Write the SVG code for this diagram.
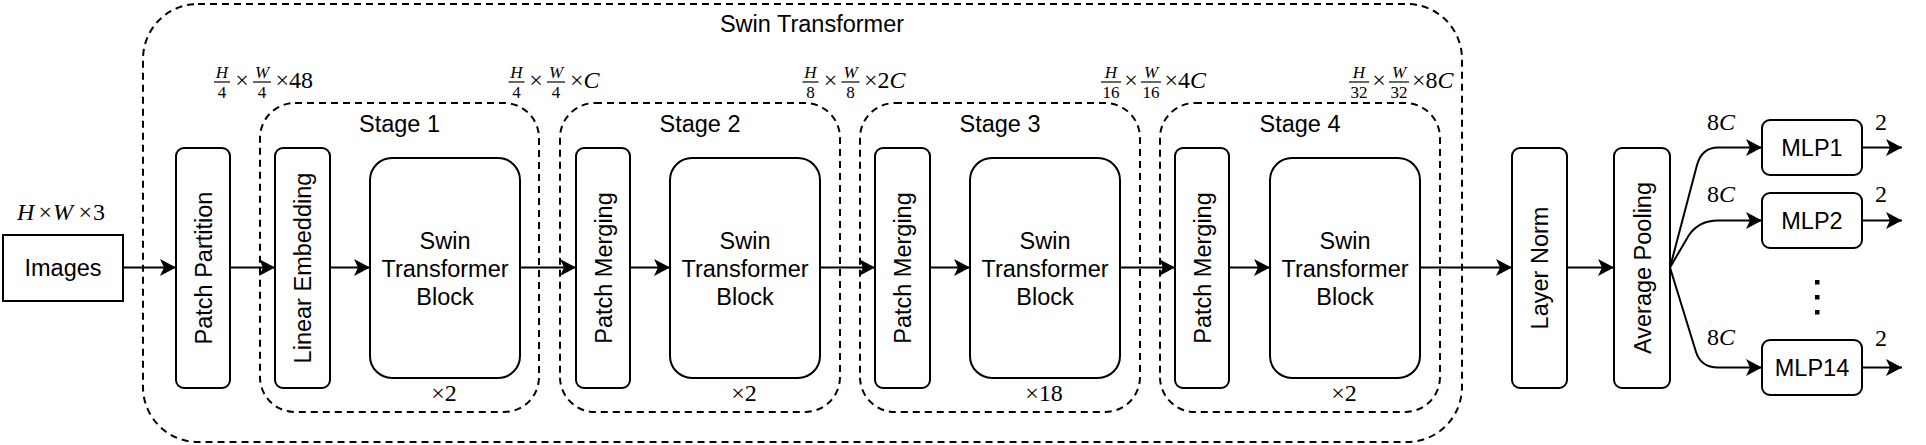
<svg xmlns="http://www.w3.org/2000/svg" width="1926" height="445" viewBox="0 0 1926 445">
<defs>
<marker id="arr" markerUnits="userSpaceOnUse" markerWidth="20" markerHeight="20" viewBox="-18 -10 20 20" refX="0" refY="0" orient="auto">
<path d="M0,0 L-16,-8.5 L-12,0 L-16,8.5 Z" fill="#000"/>
</marker>
</defs>
<style>
.box{fill:#fff;stroke:#000;stroke-width:2}
.dash{fill:none;stroke:#000;stroke-width:2;stroke-dasharray:7 5}
.t{font-family:"Liberation Sans",Arial,sans-serif;font-size:23.5px;fill:#000;text-anchor:middle}
.m{font-family:"Liberation Serif","Times New Roman",serif;font-size:24px;fill:#000}
.mi{font-style:italic}
.f{font-family:"Liberation Serif","Times New Roman",serif;font-size:17px;fill:#000;text-anchor:middle}
.bar{stroke:#000;stroke-width:1.2}
.ln{fill:none;stroke:#000;stroke-width:2;marker-end:url(#arr)}
</style>
<rect width="1926" height="445" fill="#fff"/>

<g id="swin-transformer">
<rect class="dash" x="143" y="4" width="1319" height="438" rx="55" ry="55"/>
<text class="t" x="812" y="32">Swin Transformer</text>
</g>

<g id="stage1">
<rect class="dash" x="260" y="103" width="279" height="309" rx="35" ry="35"/>
<text class="t" x="399.5" y="132">Stage 1</text>
</g>
<g id="stage2">
<rect class="dash" x="560" y="103" width="280" height="309" rx="35" ry="35"/>
<text class="t" x="700" y="132">Stage 2</text>
</g>
<g id="stage3">
<rect class="dash" x="860" y="103" width="280" height="309" rx="35" ry="35"/>
<text class="t" x="1000" y="132">Stage 3</text>
</g>
<g id="stage4">
<rect class="dash" x="1160" y="103" width="280" height="309" rx="35" ry="35"/>
<text class="t" x="1300" y="132">Stage 4</text>
</g>

<g id="images">
<rect class="box" x="3" y="235" width="120" height="66"/>
<text class="t" x="63" y="276">Images</text>
<text class="m" y="220"><tspan class="mi" x="17">H</tspan><tspan x="38.5">×</tspan><tspan class="mi" x="53">W</tspan><tspan x="78.5">×</tspan><tspan x="93">3</tspan></text>
</g>

<g id="patch-partition">
<rect class="box" x="176" y="148" width="54" height="240" rx="8" ry="8"/>
<text class="t" transform="translate(211.5,268) rotate(-90)">Patch Partition</text>
</g>

<g id="linear-embedding">
<rect class="box" x="275" y="148" width="55" height="240" rx="8" ry="8"/>
<text class="t" transform="translate(311,268) rotate(-90)">Linear Embedding</text>
</g>

<g id="swin-block1">
<rect class="box" x="370" y="158" width="150" height="220" rx="22" ry="22"/>
<text class="t" x="445" y="249">Swin</text>
<text class="t" x="445" y="277">Transformer</text>
<text class="t" x="445" y="305">Block</text>
<text class="m" x="444" y="401" text-anchor="middle">×2</text>
</g>

<g id="patch-merging2">
<rect class="box" x="576" y="148" width="54" height="240" rx="8" ry="8"/>
<text class="t" transform="translate(611.5,268) rotate(-90)">Patch Merging</text>
</g>

<g id="swin-block2">
<rect class="box" x="670" y="158" width="150" height="220" rx="22" ry="22"/>
<text class="t" x="745" y="249">Swin</text>
<text class="t" x="745" y="277">Transformer</text>
<text class="t" x="745" y="305">Block</text>
<text class="m" x="744" y="401" text-anchor="middle">×2</text>
</g>

<g id="patch-merging3">
<rect class="box" x="875" y="148" width="55" height="240" rx="8" ry="8"/>
<text class="t" transform="translate(911,268) rotate(-90)">Patch Merging</text>
</g>

<g id="swin-block3">
<rect class="box" x="970" y="158" width="150" height="220" rx="22" ry="22"/>
<text class="t" x="1045" y="249">Swin</text>
<text class="t" x="1045" y="277">Transformer</text>
<text class="t" x="1045" y="305">Block</text>
<text class="m" x="1044" y="401" text-anchor="middle">×18</text>
</g>

<g id="patch-merging4">
<rect class="box" x="1175" y="148" width="54" height="240" rx="8" ry="8"/>
<text class="t" transform="translate(1210.5,268) rotate(-90)">Patch Merging</text>
</g>

<g id="swin-block4">
<rect class="box" x="1270" y="158" width="150" height="220" rx="22" ry="22"/>
<text class="t" x="1345" y="249">Swin</text>
<text class="t" x="1345" y="277">Transformer</text>
<text class="t" x="1345" y="305">Block</text>
<text class="m" x="1344" y="401" text-anchor="middle">×2</text>
</g>

<g id="layer-norm">
<rect class="box" x="1512" y="148" width="55" height="240" rx="8" ry="8"/>
<text class="t" transform="translate(1548,268) rotate(-90)">Layer Norm</text>
</g>

<g id="average-pooling">
<rect class="box" x="1614" y="148" width="56" height="240" rx="8" ry="8"/>
<text class="t" transform="translate(1650.5,268) rotate(-90)">Average Pooling</text>
</g>

<g id="mlp1">
<rect class="box" x="1762" y="120" width="100" height="55" rx="8" ry="8"/>
<text class="t" x="1812" y="156">MLP1</text>
</g>
<g id="mlp2">
<rect class="box" x="1762" y="193" width="100" height="55" rx="8" ry="8"/>
<text class="t" x="1812" y="229">MLP2</text>
</g>
<g id="mlp14">
<rect class="box" x="1762" y="340" width="100" height="55" rx="8" ry="8"/>
<text class="t" x="1812" y="376">MLP14</text>
</g>
<g id="ellipsis">
<rect x="1815" y="280" width="4.5" height="4.5" fill="#000"/>
<rect x="1815" y="295" width="4.5" height="4.5" fill="#000"/>
<rect x="1815" y="310" width="4.5" height="4.5" fill="#000"/>
</g>

<g id="dim-labels">
<g id="dim0">
<text class="f mi" x="222" y="78">H</text><line class="bar" x1="214" y1="82" x2="230" y2="82"/><text class="f" x="222" y="98">4</text>
<text class="m" x="242" y="88" text-anchor="middle">×</text>
<text class="f mi" x="262" y="78">W</text><line class="bar" x1="253" y1="82" x2="271" y2="82"/><text class="f" x="262" y="98">4</text>
<text class="m" x="275.5" y="88">×48</text>
</g>
<g id="dim1">
<text class="f mi" x="516.5" y="78">H</text><line class="bar" x1="508.5" y1="82" x2="524.5" y2="82"/><text class="f" x="516.5" y="98">4</text>
<text class="m" x="536" y="88" text-anchor="middle">×</text>
<text class="f mi" x="556" y="78">W</text><line class="bar" x1="547" y1="82" x2="565" y2="82"/><text class="f" x="556" y="98">4</text>
<text class="m" x="570" y="88">×<tspan class="mi">C</tspan></text>
</g>
<g id="dim2">
<text class="f mi" x="810.5" y="78">H</text><line class="bar" x1="802.5" y1="82" x2="818.5" y2="82"/><text class="f" x="810.5" y="98">8</text>
<text class="m" x="830.5" y="88" text-anchor="middle">×</text>
<text class="f mi" x="850.5" y="78">W</text><line class="bar" x1="841.5" y1="82" x2="859.5" y2="82"/><text class="f" x="850.5" y="98">8</text>
<text class="m" x="864" y="88">×2<tspan class="mi">C</tspan></text>
</g>
<g id="dim3">
<text class="f mi" x="1111" y="78">H</text><line class="bar" x1="1101" y1="82" x2="1121" y2="82"/><text class="f" x="1111" y="98">16</text>
<text class="m" x="1131" y="88" text-anchor="middle">×</text>
<text class="f mi" x="1151" y="78">W</text><line class="bar" x1="1141" y1="82" x2="1161" y2="82"/><text class="f" x="1151" y="98">16</text>
<text class="m" x="1164.5" y="88">×4<tspan class="mi">C</tspan></text>
</g>
<g id="dim4">
<text class="f mi" x="1359" y="78">H</text><line class="bar" x1="1349" y1="82" x2="1369" y2="82"/><text class="f" x="1359" y="98">32</text>
<text class="m" x="1379" y="88" text-anchor="middle">×</text>
<text class="f mi" x="1399" y="78">W</text><line class="bar" x1="1389" y1="82" x2="1409" y2="82"/><text class="f" x="1399" y="98">32</text>
<text class="m" x="1412" y="88">×8<tspan class="mi">C</tspan></text>
</g>
<g id="branch-labels">
<text class="m" x="1721" y="130" text-anchor="middle">8<tspan class="mi">C</tspan></text>
<text class="m" x="1721" y="202" text-anchor="middle">8<tspan class="mi">C</tspan></text>
<text class="m" x="1721" y="345" text-anchor="middle">8<tspan class="mi">C</tspan></text>
<text class="m" x="1881" y="130" text-anchor="middle">2</text>
<text class="m" x="1881" y="202" text-anchor="middle">2</text>
<text class="m" x="1881" y="346" text-anchor="middle">2</text>
</g>
</g>

<g id="connectors">
<path class="ln" d="M123,267.5 L176,267.5"/>
<path class="ln" d="M230,267.5 L275,267.5"/>
<path class="ln" d="M330,267.5 L370,267.5"/>
<path class="ln" d="M520,267.5 L576,267.5"/>
<path class="ln" d="M630,267.5 L670,267.5"/>
<path class="ln" d="M820,267.5 L875,267.5"/>
<path class="ln" d="M930,267.5 L970,267.5"/>
<path class="ln" d="M1120,267.5 L1175,267.5"/>
<path class="ln" d="M1229,267.5 L1270,267.5"/>
<path class="ln" d="M1420,267.5 L1512,267.5"/>
<path class="ln" d="M1567,267.5 L1614,267.5"/>
<path class="ln" d="M1670,267.5 L1697,165 Q1702,147.5 1718,147.5 L1762,147.5"/>
<path class="ln" d="M1670,267.5 L1689,235 Q1699,220.5 1718,220.5 L1762,220.5"/>
<path class="ln" d="M1670,267.5 L1696,352 Q1701,367.5 1718,367.5 L1762,367.5"/>
<path class="ln" d="M1862,147.5 L1902,147.5"/>
<path class="ln" d="M1862,220.5 L1902,220.5"/>
<path class="ln" d="M1862,367.5 L1902,367.5"/>
</g>
</svg>
